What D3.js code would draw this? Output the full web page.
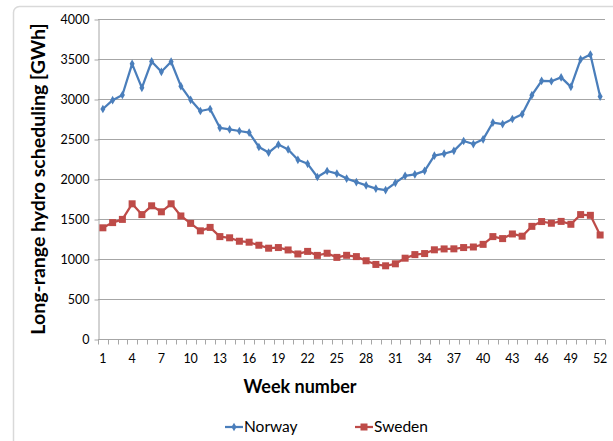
<!DOCTYPE html>
<html>
<head>
<meta charset="utf-8">
<script src="https://d3js.org/d3.v7.min.js"></script>
<style>
  body { margin: 0; background: #fff; }
  text { font-family: Lato, "Noto Sans", sans-serif; fill: #000; }
</style>
</head>
<body>
<div id="chart"></div>
<script>
var weeks = d3.range(1, 53);
var norway = [2875, 2985, 3050, 3440, 3140, 3470, 3340, 3466, 3160, 2990,
  2850, 2875, 2640, 2620, 2600, 2580, 2400, 2330, 2430, 2370,
  2240, 2190, 2025, 2100, 2068, 2005, 1962, 1920, 1880, 1862,
  1952, 2040, 2058, 2102, 2292, 2316, 2352, 2475, 2437, 2496,
  2706, 2687, 2750, 2810, 3048, 3228, 3222, 3270, 3152, 3494,
  3555, 3030];
var sweden = [1390, 1455, 1495, 1690, 1555, 1665, 1590, 1690, 1538, 1445,
  1352, 1395, 1280, 1265, 1222, 1210, 1172, 1135, 1143, 1113,
  1063, 1095, 1045, 1072, 1020, 1046, 1030, 978, 932, 915,
  940, 1010, 1055, 1068, 1115, 1126, 1127, 1143, 1150, 1183,
  1280, 1255, 1313, 1285, 1408, 1468, 1447, 1470, 1434, 1555,
  1546, 1300];
var yTicks = [0, 500, 1000, 1500, 2000, 2500, 3000, 3500, 4000];
var series = [
  { name: "Norway", values: norway, color: "#4A7EBB", marker: "diamond" },
  { name: "Sweden", values: sweden, color: "#BE4B48", marker: "square" }
];

(function() {
var width = 613, height = 441;
var svg = d3.select("#chart").append("svg")
  .attr("width", width).attr("height", height);

// chart frame
svg.append("rect")
  .attr("x", 13.5).attr("y", 6.5)
  .attr("width", 640).attr("height", 460)
  .attr("rx", 6)
  .attr("fill", "#fff")
  .attr("stroke", "#D9D9D9")
  .attr("stroke-width", 1.5);

var pLeft = 98, pRight = 605, pTop = 19, pBottom = 339;

var x = d3.scaleBand().domain(weeks).range([pLeft, pRight]);
var y = d3.scaleLinear().domain([0, 4000]).range([pBottom, pTop]);

// gridlines
svg.append("g")
  .selectAll("line")
  .data(yTicks.filter(function(d) { return d > 0; }))
  .enter().append("line")
  .attr("x1", pLeft).attr("x2", pRight)
  .attr("y1", function(d) { return Math.round(y(d)) + 0.5; })
  .attr("y2", function(d) { return Math.round(y(d)) + 0.5; })
  .attr("stroke", "#A6A6A6")
  .attr("stroke-width", 1);

// y axis
var yAxis = svg.append("g")
  .attr("transform", "translate(" + (pLeft + 0.5) + ",0.5)")
  .call(d3.axisLeft(y).tickValues(yTicks).tickFormat(d3.format("d"))
    .tickSize(4).tickPadding(5).tickSizeOuter(0));
yAxis.select(".domain").attr("stroke", "#A6A6A6");
yAxis.selectAll(".tick line").attr("stroke", "#A6A6A6");
yAxis.selectAll("text").attr("font-size", 12.5).attr("fill", "#222")
  .attr("font-family", "Lato, sans-serif");

// x axis: tick marks at category boundaries, labels every 3rd week
var xg = svg.append("g").attr("transform", "translate(0," + (pBottom + 0.5) + ")");
xg.append("line")
  .attr("x1", pLeft).attr("x2", pRight)
  .attr("stroke", "#A6A6A6");
xg.selectAll(".bound")
  .data(d3.range(0, 53))
  .enter().append("line")
  .attr("class", "bound")
  .attr("x1", function(i) { return Math.round(pLeft + i * x.step()) + 0.5; })
  .attr("x2", function(i) { return Math.round(pLeft + i * x.step()) + 0.5; })
  .attr("y1", 0).attr("y2", 5)
  .attr("stroke", "#A6A6A6");
xg.selectAll(".lab")
  .data(weeks.filter(function(w) { return (w - 1) % 3 === 0; }))
  .enter().append("text")
  .attr("x", function(w) { return x(w) + x.bandwidth() / 2; })
  .attr("y", 23)
  .attr("text-anchor", "middle")
  .attr("font-size", 12.5)
  .attr("fill", "#222")
  .text(function(w) { return w; });

// axis titles
svg.append("text")
  .attr("x", 300).attr("y", 393)
  .attr("text-anchor", "middle")
  .attr("font-size", 18).attr("font-weight", "bold")
  .text("Week number");
svg.append("text")
  .attr("transform", "translate(45,179) rotate(-90)")
  .attr("text-anchor", "middle")
  .attr("font-size", 19.5).attr("font-weight", "bold")
  .text("Long-range hydro scheduling [GWh]");

var line = d3.line()
  .x(function(d, i) { return x(weeks[i]) + x.bandwidth() / 2; })
  .y(function(d) { return y(d); });

function drawMarker(g, s, cx, cy) {
  if (s.marker === "diamond") {
    g.append("path")
      .attr("d", d3.symbol().type(d3.symbolDiamond).size(22)())
      .attr("transform", "translate(" + cx + "," + cy + ")")
      .attr("fill", s.color);
  } else {
    g.append("rect")
      .attr("x", cx - 3.5).attr("y", cy - 3.5)
      .attr("width", 7).attr("height", 7)
      .attr("fill", s.color);
  }
}

series.forEach(function(s) {
  var g = svg.append("g");
  g.append("path")
    .datum(s.values)
    .attr("d", line)
    .attr("fill", "none")
    .attr("stroke", s.color)
    .attr("stroke-width", 2.25)
    .attr("stroke-linejoin", "round");
  s.values.forEach(function(v, i) {
    drawMarker(g, s, x(weeks[i]) + x.bandwidth() / 2, y(v));
  });
});

// legend
var legendX = [225, 355];
series.forEach(function(s, i) {
  var g = svg.append("g").attr("transform", "translate(" + legendX[i] + ",427)");
  g.append("line").attr("x1", 0).attr("x2", 18)
    .attr("stroke", s.color).attr("stroke-width", 2.25);
  drawMarker(g, s, 9, 0);
  g.append("text").attr("x", 19).attr("y", 0).attr("dy", "0.35em")
    .attr("font-size", 15.5).attr("fill", "#222")
    .text(s.name);
});
})();
</script>
</body>
</html>
